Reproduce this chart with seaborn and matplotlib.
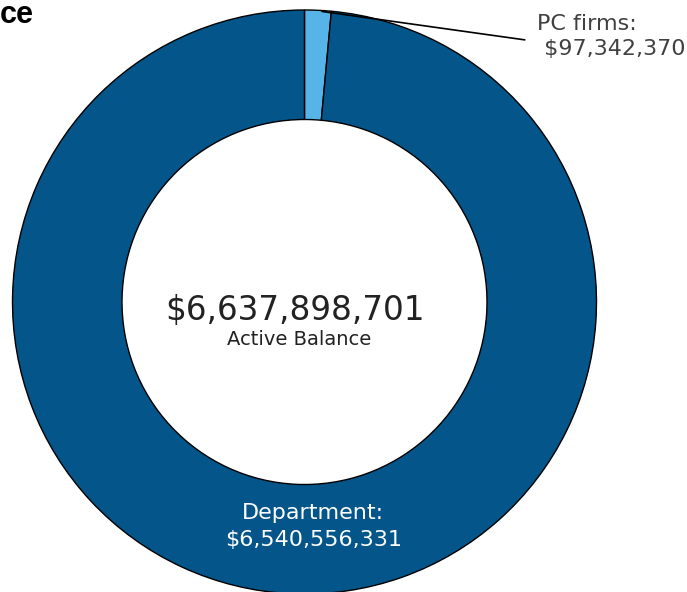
import matplotlib
matplotlib.use("Agg")
import matplotlib.pyplot as plt
import seaborn as sns

# data
sources = ["PC firms", "Department"]
balances = [97342370, 6540556331]
slice_colors = ["#56B4E9", "#03558A"]
center_label = "Active Balance"
title_visible = "ce"  # only the tail of the title shows in the original

sns.set_theme(style="white")
plt.rcParams["font.family"] = ["DejaVu Sans"]

fig = plt.figure(figsize=(6.87, 5.92), dpi=100)
W, H = 687, 592
R = 292
cx, cy = 304.5, 302
ax = fig.add_axes([(cx - R) / W, (H - cy - R) / H, 2 * R / W, 2 * R / H])

wedges, _ = ax.pie(balances, colors=slice_colors, startangle=90, counterclock=False,
                   radius=1, wedgeprops=dict(width=0.375, edgecolor="black", linewidth=1))
for w in wedges:
    w.set_clip_on(False)
ax.set_xlim(-1, 1)
ax.set_ylim(-1, 1)
ax.set_aspect("equal")
ax.axis("off")

total = sum(balances)
ax.text(-0.033, -0.03, f"${total:,}", ha="center", va="center", fontsize=23.5, color="#222222")
ax.text(-0.02, -0.13, center_label, ha="center", va="center", fontsize=14, color="#222222")

# department label inside the ring
ax.text(0.03, -0.77, f"{sources[1]}:\n${balances[1]:,}", ha="center", va="center",
        fontsize=16, color="white", linespacing=1.45)

# PC firms label with a leader line
ax.annotate(f"{sources[0]}:\n ${balances[0]:,}", xy=(0.06, 0.995), xytext=(0.795, 0.91),
            ha="left", va="center", fontsize=16, color="#404040", linespacing=1.3,
            arrowprops=dict(arrowstyle="-", color="black", lw=1.2, shrinkA=0, shrinkB=0,
                            relpos=(-0.08, 0.42)),
            annotation_clip=False)

fig.text(0, 1 - 23 / H, title_visible, ha="left", va="baseline", fontsize=22,
         fontweight="bold", color="black", family="Liberation Sans")

fig.savefig("out.png", dpi=100)
